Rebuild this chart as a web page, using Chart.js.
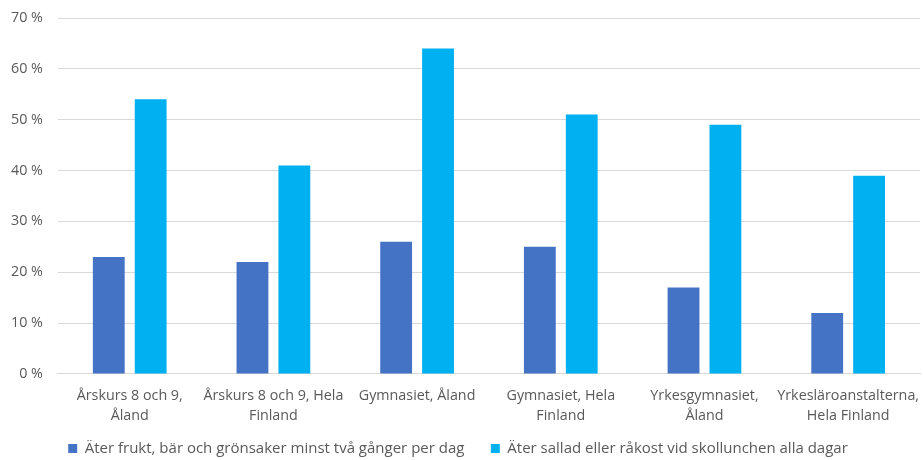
<!DOCTYPE html>
<html>
<head>
<meta charset="utf-8">
<script src="https://cdn.jsdelivr.net/npm/chart.js@4.4.0/dist/chart.umd.min.js"></script>
<style>
  html, body { margin: 0; padding: 0; background: #fff; }
  #wrap { width: 923px; height: 460px; }
</style>
</head>
<body>
<div id="wrap"><canvas id="myCanvas"></canvas></div>
<script>
const categories = [
  ["Årskurs 8 och 9,", "Åland"],
  ["Årskurs 8 och 9, Hela", "Finland"],
  ["Gymnasiet, Åland"],
  ["Gymnasiet, Hela", "Finland"],
  ["Yrkesgymnasiet,", "Åland"],
  ["Yrkesläroanstalterna,", "Hela Finland"]
];
const fruitValues = [23, 22, 26, 25, 17, 12];
const saladValues = [54, 41, 64, 51, 49, 39];
const seriesNames = [
  "Äter frukt, bär och grönsaker minst två gånger per dag",
  "Äter sallad eller råkost vid skollunchen alla dagar"
];

const textColor = "#595959";
const font = { family: "'Open Sans', 'Noto Sans', sans-serif", size: 14.3, lineHeight: 1.4 };

const ctx = document.getElementById("myCanvas").getContext("2d");
new Chart(ctx, {
  type: "bar",
  data: {
    labels: categories,
    datasets: [
      {
        label: seriesNames[0],
        data: fruitValues,
        backgroundColor: "#4472c4",
        categoryPercentage: 0.583,
        barPercentage: 0.76
      },
      {
        label: seriesNames[1],
        data: saladValues,
        backgroundColor: "#00b0f0",
        categoryPercentage: 0.583,
        barPercentage: 0.76
      }
    ]
  },
  options: {
    responsive: true,
    maintainAspectRatio: false,
    animation: false,
    layout: { padding: { left: -4, right: 3, top: 18, bottom: -6 } },
    plugins: {
      tooltip: { enabled: false },
      legend: {
        position: "bottom",
        labels: {
          color: textColor,
          font: { family: font.family, size: 15, lineHeight: 1.4 },
          boxWidth: 9,
          boxHeight: 9,
          padding: 3,
          // wider gap between the two items than the vertical padding
          generateLabels: (chart) => {
            const items = Chart.defaults.plugins.legend.labels.generateLabels(chart);
            items[0].text = items[0].text + "      ";
            return items;
          }
        }
      }
    },
    scales: {
      x: {
        grid: { display: false, drawTicks: false },
        border: { color: "#d9d9d9" },
        ticks: { color: textColor, font: font, maxRotation: 0, autoSkip: false, padding: 12 },
        afterFit: (scale) => {
          scale.paddingLeft = 0;
          scale.paddingRight = 0;
        }
      },
      y: {
        min: 0,
        max: 70,
        grid: { color: "#d9d9d9", drawTicks: false },
        border: { display: false },
        ticks: {
          stepSize: 10,
          color: textColor,
          font: font,
          padding: 15,
          callback: (v) => v + " %"
        },
        afterFit: (scale) => {
          scale.paddingTop = 0;
          scale.paddingBottom = 0;
        }
      }
    }
  }
});
</script>
</body>
</html>
